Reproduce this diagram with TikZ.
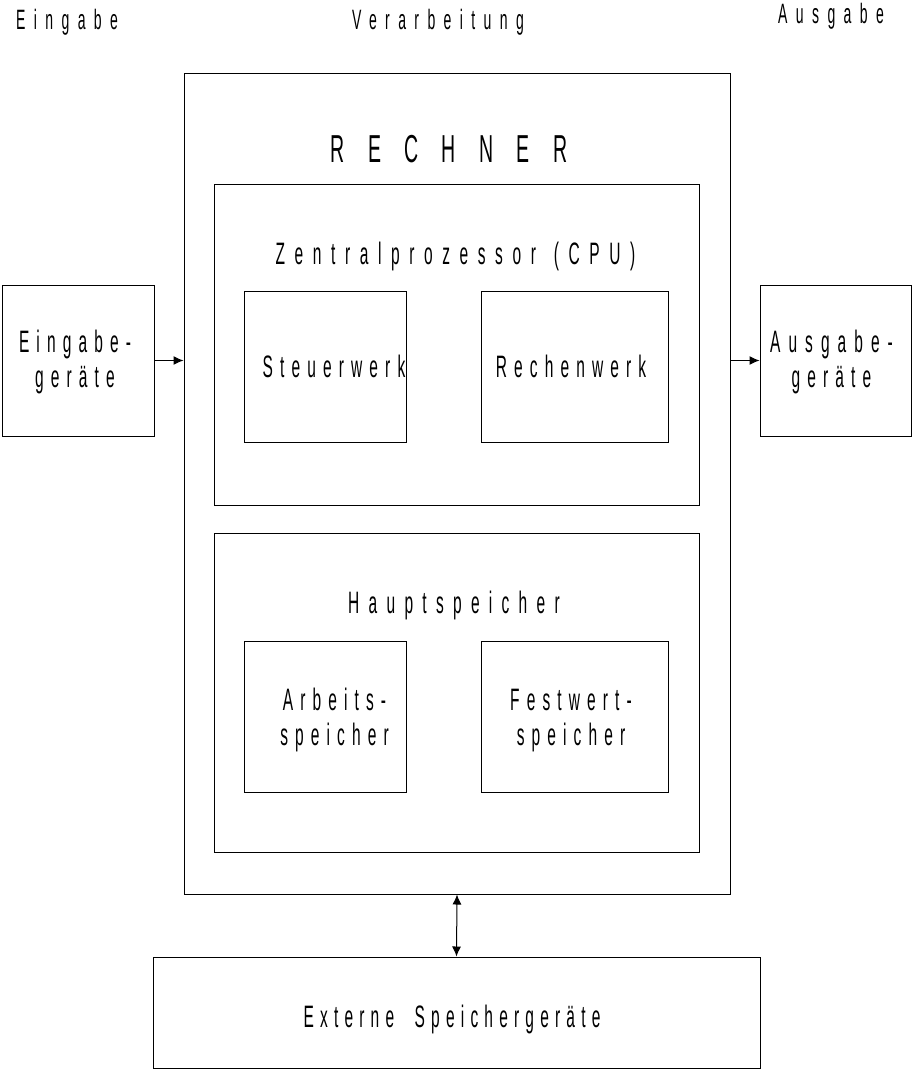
\documentclass[tikz,border=0pt]{standalone}
\usepackage{fontspec}
\usetikzlibrary{arrows.meta}
% Condensed, letter-spaced sans faces
\newfontfamily\bodyfont[FakeStretch=0.5,LetterSpace=23]{Liberation Sans}
\newfontfamily\headfont[FakeStretch=0.5,LetterSpace=30]{Liberation Sans}
\newfontfamily\titlefont[FakeStretch=0.5,LetterSpace=60]{Liberation Sans}
\begin{document}
\begin{tikzpicture}[x=1pt,y=-1pt,
  box/.style={draw=black,line width=1pt,inner sep=0pt,rectangle},
  lbl/.style={inner sep=0pt,anchor=base,font=\bodyfont\fontsize{31}{35}\selectfont},
  head/.style={inner sep=0pt,anchor=base,font=\headfont\fontsize{28}{30}\selectfont},
  tip/.tip={Latex[length=10pt,width=9pt]},
  arr/.style={line width=1pt,-tip},
  darr/.style={line width=1pt,tip-tip}]
\useasboundingbox (0,0) rectangle (912,1078);

% column headings
\node[head,anchor=base west] (hin) at (16,30) {Eingabe};
\node[head] (hver) at (438,30) {Verarbeitung};
\node[head] (haus) at (831,24) {Ausgabe};

% computer and its parts
\node[box,minimum width=546pt,minimum height=820pt] (rech) at (457,484) {};
\node[inner sep=0pt,anchor=base,font=\titlefont\fontsize{39}{44}\selectfont] (trech) at (449,163) {RECHNER};

\node[box,minimum width=485pt,minimum height=320pt] (cpu) at (456.5,345) {};
\node[lbl,font=\bodyfont\fontsize{31}{35}\selectfont\addfontfeature{LetterSpace=31}] (tcpu) at (455.5,264) {Zentralprozessor\hspace{4pt} (CPU)};
\node[box,minimum width=162pt,minimum height=151pt] (steu) at (325,366.5) {};
\node[lbl] (tsteu) at (334,377) {Steuerwerk};
\node[box,minimum width=187pt,minimum height=151pt] (rw) at (574.5,366.5) {};
\node[lbl] (trw) at (571,377) {Rechenwerk};

\node[box,minimum width=485pt,minimum height=319pt] (haupt) at (456.5,692.5) {};
\node[lbl,font=\bodyfont\fontsize{31}{35}\selectfont\addfontfeature{LetterSpace=30}] (thaupt) at (454,613) {Hauptspeicher};
\node[box,minimum width=162pt,minimum height=151pt] (arb) at (325,716.5) {};
\node[lbl] (tarb1) at (334.5,710) {Arbeits-};
\node[lbl] (tarb2) at (334.5,745) {speicher};
\node[box,minimum width=187pt,minimum height=151pt] (fest) at (574.5,716.5) {};
\node[lbl] (tfest1) at (571,710) {Festwert-};
\node[lbl] (tfest2) at (571,745) {speicher};

% peripheral devices
\node[box,minimum width=152pt,minimum height=151pt] (ein) at (78,360.5) {};
\node[lbl] (tein1) at (75,352) {Eingabe-};
\node[lbl] (tein2) at (75,387) {geräte};
\node[box,minimum width=151pt,minimum height=151pt] (aus) at (835.5,360.5) {};
\node[lbl,font=\bodyfont\fontsize{31}{35}\selectfont\addfontfeature{LetterSpace=26}] (taus1) at (831.5,352) {Ausgabe-};
\node[lbl] (taus2) at (831.5,387) {geräte};
\node[box,minimum width=607pt,minimum height=111pt] (ext) at (456.5,1012.5) {};
\node[lbl,font=\bodyfont\fontsize{31}{35}\selectfont\addfontfeature{LetterSpace=20}] (text) at (452,1027) {Externe\hspace{10pt} Speichergeräte};

% data flow
\draw[arr] (ein.east) -- (ein.east -| rech.west);
\draw[arr] (rech.east |- aus.west) -- (aus.west);
\draw[darr] (rech.south) -- (ext.north);
\end{tikzpicture}
\end{document}
